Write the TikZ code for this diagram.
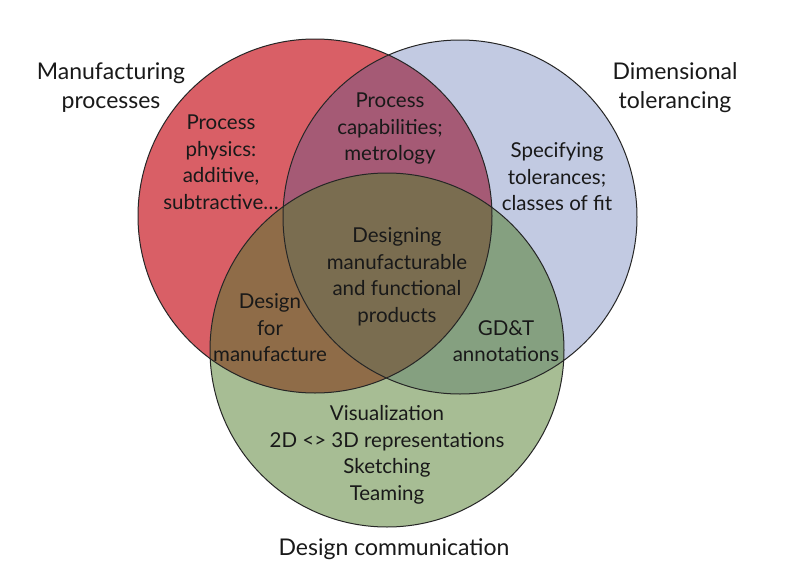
\documentclass[tikz,border=0pt]{standalone}
\usepackage{fontspec}
\setmainfont{Lato}
\definecolor{setR}{HTML}{D95F66}
\definecolor{setB}{HTML}{C2CAE2}
\definecolor{setG}{HTML}{A7BD94}
\definecolor{setRB}{HTML}{A55A75}
\definecolor{setRG}{HTML}{8F6C48}
\definecolor{setBG}{HTML}{85A080}
\definecolor{setRBG}{HTML}{7A6D50}
\tikzset{
  ring/.style={draw=black!85, line width=1pt},
  inner/.style={align=center, font=\fontsize{20.5}{26.5}\selectfont, text=black!90},
  outer/.style={align=center, font=\fontsize{23}{29}\selectfont, text=black!90},
}
\begin{document}
\begin{tikzpicture}[x=1pt,y=-1pt]
\useasboundingbox (0,0) rectangle (801,573);
\fill[white] (0,0) rectangle (801,573);
\coordinate (cR) at (315,216);
\coordinate (cB) at (460,217);
\coordinate (cG) at (387,350);
\def\rr{177pt}
% single-set fills
\fill[setR] (cR) circle[radius=\rr];
\fill[setB] (cB) circle[radius=\rr];
\fill[setG] (cG) circle[radius=\rr];
% pairwise overlaps
\begin{scope}
  \clip (cR) circle[radius=\rr];
  \fill[setRB] (cB) circle[radius=\rr];
  \fill[setRG] (cG) circle[radius=\rr];
\end{scope}
\begin{scope}
  \clip (cB) circle[radius=\rr];
  \fill[setBG] (cG) circle[radius=\rr];
\end{scope}
% triple overlap
\begin{scope}
  \clip (cR) circle[radius=\rr];
  \clip (cB) circle[radius=\rr];
  \fill[setRBG] (cG) circle[radius=\rr];
\end{scope}
% outlines
\draw[ring] (cR) circle[radius=\rr];
\draw[ring] (cB) circle[radius=\rr];
\draw[ring] (cG) circle[radius=\rr];
% set names
\node[outer] (lM) at (111,88) {Manufacturing\\processes};
\node[outer] (lD) at (675,88) {Dimensional\\tolerancing};
\node[outer] (lC) at (394,549) {Design communication};
% region texts
\node[inner] (tR) at (221,162) {Process\\physics:\\additive,\\subtractive\ldots};
\node[inner] (tRB) at (390,129) {Process\\capabilities;\\metrology};
\node[inner] (tB) at (557,177) {Specifying\\tolerances;\\classes of fit};
\node[inner] (tRBG) at (397,277) {Designing\\manufacturable\\and functional\\products};
\node[inner] (tRG) at (270,328) {Design\\for\\manufacture};
\node[inner] (tBG) at (506,341) {GD\&T\\annotations};
\node[inner] (tG) at (387,455) {Visualization\\2D <> 3D representations\\Sketching\\Teaming};
\end{tikzpicture}
\end{document}
